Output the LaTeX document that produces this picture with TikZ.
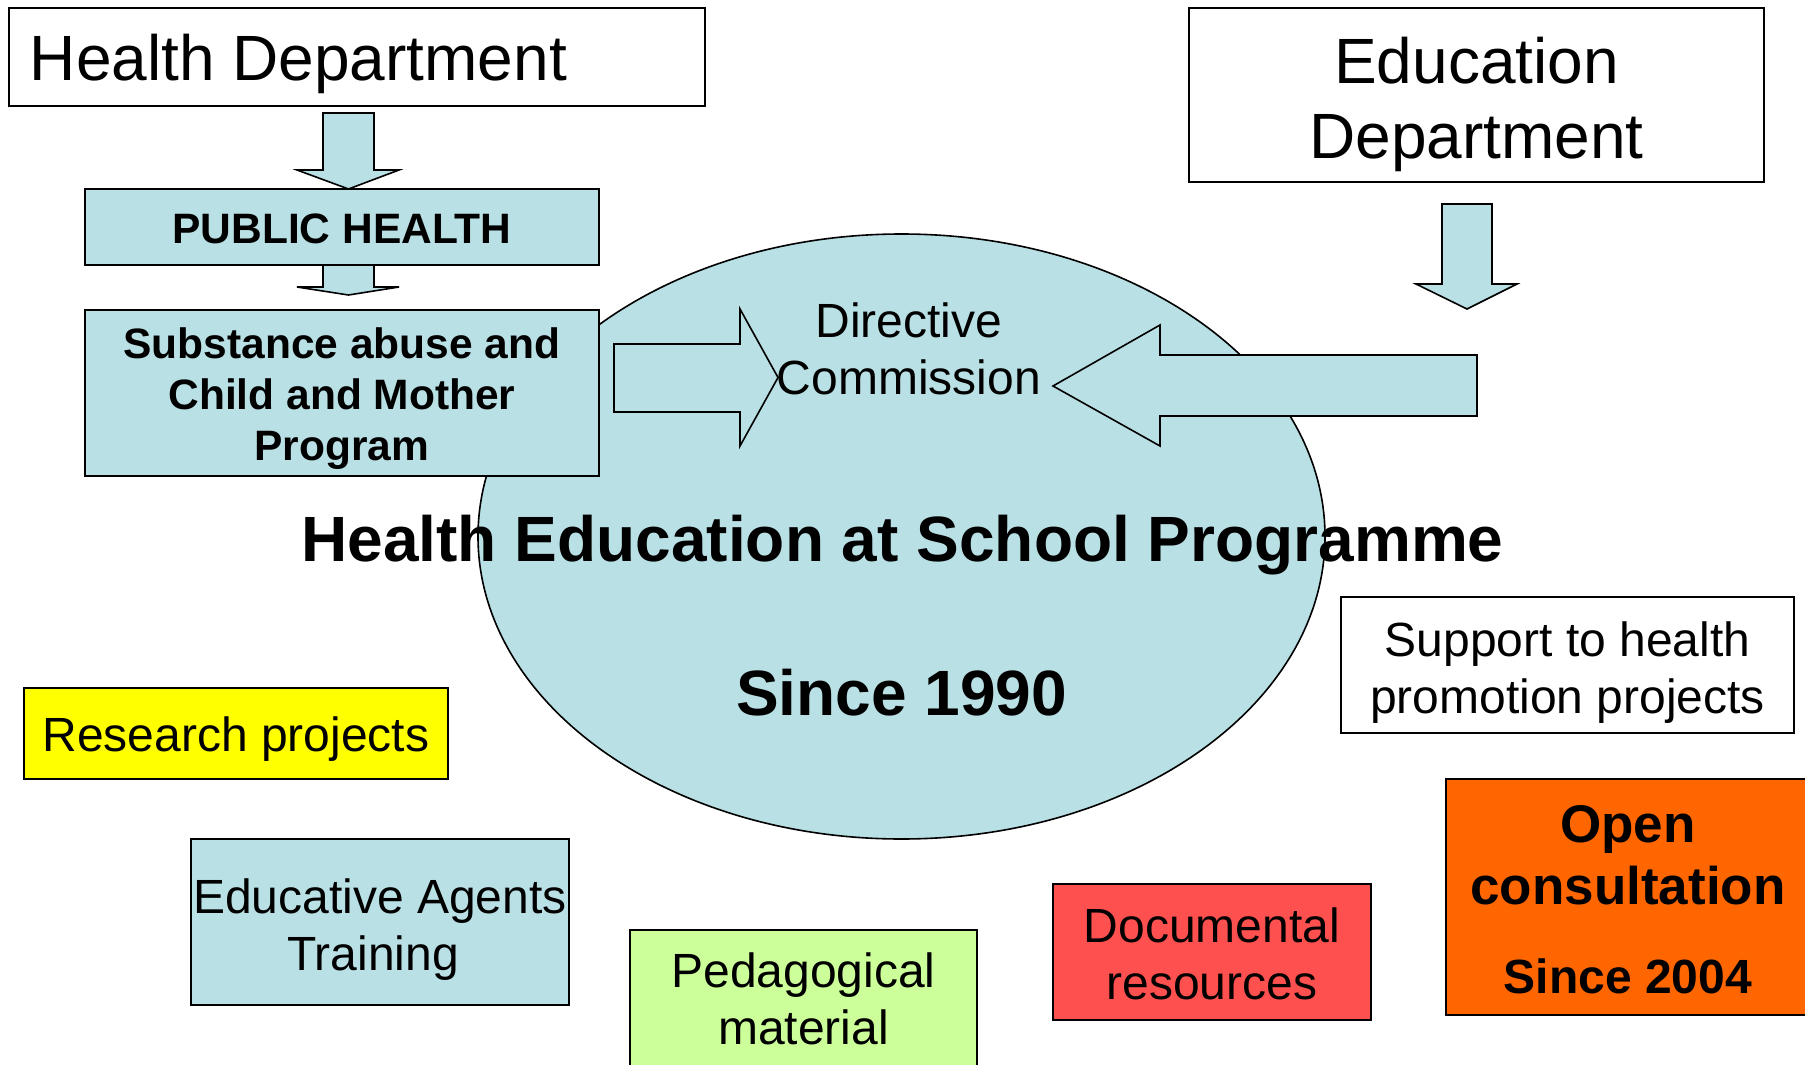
\documentclass[tikz,border=0pt]{standalone}
\usepackage{fontspec}
\setmainfont{Liberation Sans}
\usetikzlibrary{shapes.geometric}
\definecolor{lblue}{RGB}{185,224,228}
\definecolor{lyellow}{RGB}{255,255,0}
\definecolor{lgreen}{RGB}{204,255,153}
\definecolor{lred}{RGB}{255,80,80}
\definecolor{lorange}{RGB}{255,102,0}
\begin{document}
\begin{tikzpicture}[x=1pt,y=-1pt,
  line width=1.6pt,
  box/.style={draw=black, rectangle, inner sep=0pt},
  txt/.style={inner sep=0pt, align=center},
  barrow/.style={draw=black, fill=lblue, line join=miter},
  fh/.style={font=\fontsize{64}{75}\selectfont},
  fhb/.style={font=\bfseries\fontsize{64}{75}\selectfont},
  fm/.style={font=\fontsize{48}{57.5}\selectfont},
  fsb/.style={font=\bfseries\fontsize{42.5}{51}\selectfont},
]
\useasboundingbox (0,0) rectangle (1805,1065);
\fill[white] (0,0) rectangle (1805,1065);

% central ellipse
\node[ellipse, draw=black, fill=lblue, minimum width=847pt, minimum height=605pt, inner sep=0pt] (hesp) at (901.5,536.5) {};

% Health department column
\node[box, fill=white, minimum width=696pt, minimum height=98pt] (hd) at (357,57) {};
\node[txt, fh, anchor=base west] (hdt) at (29,81) {Health Department};
\draw[barrow] (323,113) -- (374,113) -- (374,170) -- (399,170) -- (348.5,189) -- (297,170) -- (323,170) -- cycle;
\node[box, fill=lblue, minimum width=514pt, minimum height=76pt] (ph) at (342,227) {};
\node[txt, fsb, anchor=base] (pht) at (342,243) {PUBLIC HEALTH};
\draw[barrow] (323,265) -- (374,265) -- (374,287) -- (399,287) -- (348.5,295) -- (297,287) -- (323,287) -- cycle;
\node[box, fill=lblue, minimum width=514pt, minimum height=166pt] (sub) at (342,393) {};
\node[txt, fsb] (subt) at (342,398.5) {Substance abuse and\\Child and Mother\\Program};

% Education department
\node[box, fill=white, minimum width=575pt, minimum height=174pt] (ed) at (1476.5,95) {};
\node[txt, fh] (edt) at (1476.5,104) {Education\\Department};
\draw[barrow] (1442,204) -- (1492,204) -- (1492,284) -- (1517,284) -- (1467,309) -- (1416,284) -- (1442,284) -- cycle;

% block arrows into the directive commission
\draw[barrow] (1477,355) -- (1477,416) -- (1160,416) -- (1160,446) -- (1053,386) -- (1160,325) -- (1160,355) -- cycle;
\draw[barrow] (614,344) -- (740,344) -- (740,309) -- (778,377.5) -- (740,446) -- (740,412) -- (614,412) -- cycle;

\node[txt, fm] (dc) at (909,349) {Directive\\Commission};
\node[txt, fhb, anchor=base] (title) at (902.5,561) {Health Education at School Programme};
\node[txt, fhb, anchor=base] (since) at (901.5,715) {Since 1990};

% surrounding boxes
\node[box, fill=white, minimum width=453pt, minimum height=136pt] (sup) at (1567.5,665) {};
\node[txt, fm] (supt) at (1567.5,672.5) {Support to health\\promotion projects};

\node[box, fill=lorange, minimum width=372pt, minimum height=236pt] (oc) at (1632,897) {};
\node[txt, font=\bfseries\fontsize{53}{62}\selectfont] (oct) at (1628,899.5) {Open\\consultation\\[27pt]{\fontsize{48}{62}\selectfont Since 2004}};

\node[box, fill=lyellow, minimum width=424pt, minimum height=91pt] (rp) at (236,733.5) {};
\node[txt, fm, anchor=base] (rpt) at (236,751.5) {Research projects};

\node[box, fill=lblue, minimum width=378pt, minimum height=166pt] (eat) at (380,922) {};
\node[txt, fm] (eatt) at (380,929.5) {Educative Agents\\Training\hspace*{14pt}};

\node[box, fill=lgreen, minimum width=347pt, minimum height=140pt] (pm) at (803.5,1000) {};
\node[txt, fm] (pmt) at (803.5,999) {Pedagogical\\material};

\node[box, fill=lred, minimum width=318pt, minimum height=136pt] (dr) at (1212,952) {};
\node[txt, fm] (drt) at (1212,954) {Documental\\resources};
\end{tikzpicture}
\end{document}
